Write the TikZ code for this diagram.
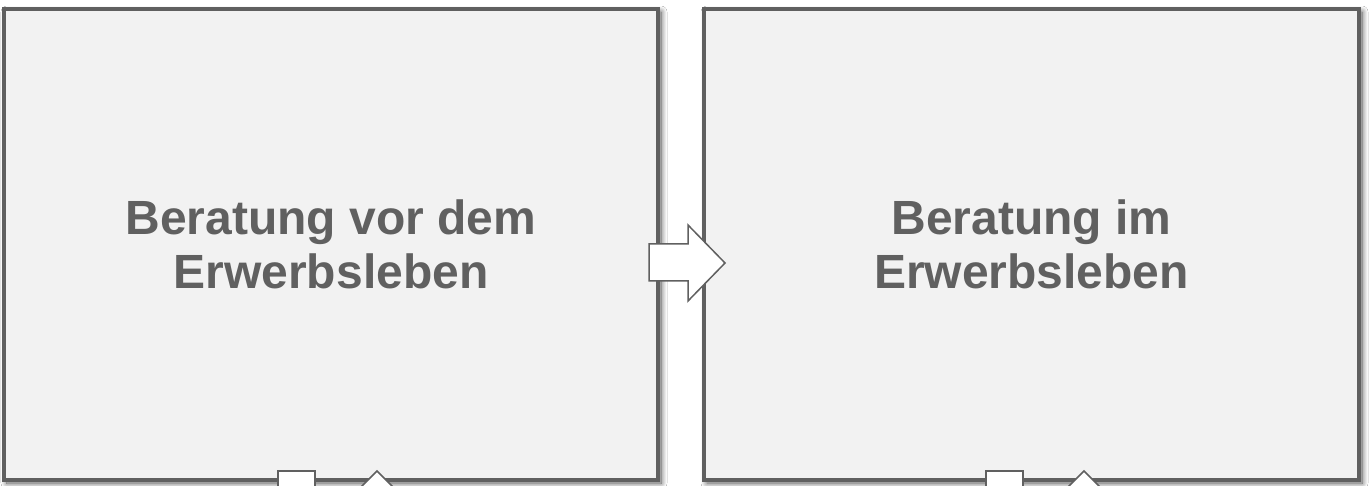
\documentclass[tikz,border=0pt]{standalone}
\usepackage{fontspec}
\setmainfont{Liberation Sans}
\usetikzlibrary{shadows.blur}
\definecolor{boxfill}{HTML}{F2F2F2}
\definecolor{boxline}{HTML}{606060}
\definecolor{txt}{HTML}{606060}
\tikzset{
  phase/.style={draw=boxline, line width=4pt, fill=boxfill, rectangle, inner sep=0pt,
    minimum width=654pt, minimum height=471pt,
    blur shadow={shadow xshift=3pt, shadow yshift=-3pt, shadow blur radius=6pt, shadow opacity=70, shadow blur steps=12},
    font=\fontsize{48pt}{54pt}\selectfont\bfseries, text=txt, align=center},
  blockarrow/.style={draw=boxline, line width=1.5pt, fill=white, line join=miter},
}
\begin{document}
\begin{tikzpicture}[x=1pt,y=-1pt]
\clip (0,0) rectangle (1370,486);
\fill[white] (0,0) rectangle (1370,486);
\node[phase] (left) at (331,244.5) {Beratung vor dem\\Erwerbsleben};
\node[phase, minimum width=655pt] (right) at (1031.5,244.5) {Beratung im\\Erwerbsleben};
% arrow between boxes
\draw[blockarrow] (649,244) -- (688,244) -- (688,225) -- (725,263) -- (688,301) -- (688,281) -- (649,281) -- cycle;
% partial shapes at the bottom of the left box
\draw[blockarrow] (278,500) -- (278,471) -- (315,471) -- (315,500);
\draw[blockarrow] (347,501) -- (377,471) -- (407,501);
% partial shapes at the bottom of the right box
\draw[blockarrow] (986,500) -- (986,471) -- (1023,471) -- (1023,500);
\draw[blockarrow] (1054,501) -- (1084,471) -- (1114,501);
\end{tikzpicture}
\end{document}
